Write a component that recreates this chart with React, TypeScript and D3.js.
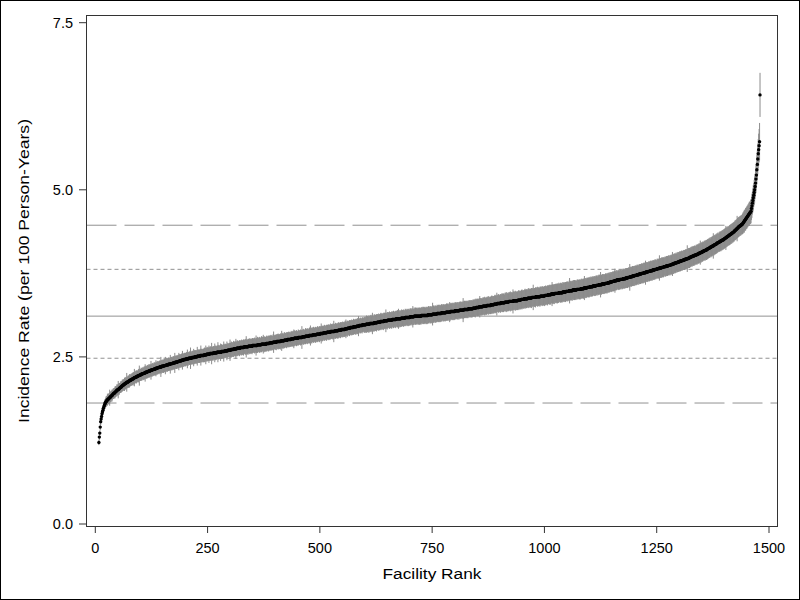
import React from 'react';
import * as d3 from 'd3';

// facility incidence rates, sorted, one per facility (rank 8 .. 1480)
const FIRST_RANK = 8;
const RATES = [
  1.22,1.30,1.36,1.45,1.53,1.57,1.61,1.65,1.68,1.70,1.73,1.75,1.77,
  1.79,1.81,1.82,1.83,1.84,1.85,1.86,1.86,1.87,1.88,1.88,1.89,1.90,1.90,1.91,1.92,1.92,1.93,1.94,1.95,
  1.95,1.96,1.96,1.97,1.98,1.98,1.99,2.00,2.00,2.01,2.01,2.02,2.02,2.03,2.04,2.04,2.05,2.05,2.06,2.07,
  2.07,2.08,2.08,2.09,2.09,2.10,2.10,2.11,2.11,2.12,2.12,2.12,2.13,2.13,2.14,2.14,2.15,2.15,2.15,2.16,
  2.16,2.17,2.17,2.17,2.18,2.18,2.19,2.19,2.19,2.20,2.20,2.20,2.21,2.21,2.21,2.22,2.22,2.22,2.23,2.23,
  2.23,2.24,2.24,2.24,2.25,2.25,2.25,2.25,2.26,2.26,2.26,2.27,2.27,2.27,2.27,2.28,2.28,2.28,2.29,2.29,
  2.29,2.29,2.30,2.30,2.30,2.30,2.31,2.31,2.31,2.31,2.32,2.32,2.32,2.32,2.33,2.33,2.33,2.33,2.34,2.34,
  2.34,2.34,2.35,2.35,2.35,2.35,2.35,2.36,2.36,2.36,2.36,2.36,2.37,2.37,2.37,2.37,2.37,2.38,2.38,2.38,
  2.38,2.38,2.39,2.39,2.39,2.39,2.39,2.40,2.40,2.40,2.40,2.40,2.41,2.41,2.41,2.41,2.41,2.42,2.42,2.42,
  2.42,2.42,2.43,2.43,2.43,2.43,2.44,2.44,2.44,2.44,2.44,2.45,2.45,2.45,2.45,2.45,2.46,2.46,2.46,2.46,
  2.46,2.47,2.47,2.47,2.47,2.47,2.47,2.48,2.48,2.48,2.48,2.48,2.48,2.48,2.49,2.49,2.49,2.49,2.49,2.49,
  2.50,2.50,2.50,2.50,2.50,2.50,2.51,2.51,2.51,2.51,2.51,2.51,2.51,2.52,2.52,2.52,2.52,2.52,2.52,2.52,
  2.52,2.53,2.53,2.53,2.53,2.53,2.53,2.54,2.54,2.54,2.54,2.54,2.54,2.54,2.55,2.55,2.55,2.55,2.55,2.55,
  2.55,2.55,2.56,2.56,2.56,2.56,2.56,2.56,2.56,2.56,2.57,2.57,2.57,2.57,2.57,2.57,2.57,2.57,2.57,2.57,
  2.58,2.58,2.58,2.58,2.58,2.58,2.58,2.59,2.59,2.59,2.59,2.59,2.59,2.59,2.60,2.60,2.60,2.60,2.60,2.60,
  2.60,2.61,2.61,2.61,2.61,2.61,2.61,2.62,2.62,2.62,2.62,2.62,2.62,2.62,2.63,2.63,2.63,2.63,2.63,2.63,
  2.63,2.63,2.64,2.64,2.64,2.64,2.64,2.64,2.64,2.64,2.65,2.65,2.65,2.65,2.65,2.65,2.65,2.65,2.65,2.65,
  2.66,2.66,2.66,2.66,2.66,2.66,2.66,2.66,2.66,2.67,2.67,2.67,2.67,2.67,2.67,2.67,2.67,2.67,2.67,2.67,
  2.68,2.68,2.68,2.68,2.68,2.68,2.68,2.68,2.68,2.69,2.69,2.69,2.69,2.69,2.69,2.69,2.69,2.69,2.69,2.69,
  2.70,2.70,2.70,2.70,2.70,2.70,2.70,2.71,2.71,2.71,2.71,2.71,2.71,2.71,2.71,2.72,2.72,2.72,2.72,2.72,
  2.72,2.72,2.72,2.73,2.73,2.73,2.73,2.73,2.73,2.73,2.73,2.73,2.74,2.74,2.74,2.74,2.74,2.74,2.74,2.74,
  2.75,2.75,2.75,2.75,2.75,2.75,2.75,2.76,2.76,2.76,2.76,2.76,2.76,2.76,2.76,2.77,2.77,2.77,2.77,2.77,
  2.77,2.77,2.78,2.78,2.78,2.78,2.78,2.78,2.78,2.78,2.78,2.79,2.79,2.79,2.79,2.79,2.79,2.79,2.79,2.79,
  2.80,2.80,2.80,2.80,2.80,2.80,2.80,2.81,2.81,2.81,2.81,2.81,2.81,2.81,2.81,2.82,2.82,2.82,2.82,2.82,
  2.82,2.82,2.82,2.83,2.83,2.83,2.83,2.83,2.83,2.83,2.83,2.83,2.84,2.84,2.84,2.84,2.84,2.84,2.84,2.84,
  2.85,2.85,2.85,2.85,2.85,2.85,2.85,2.86,2.86,2.86,2.86,2.86,2.86,2.86,2.86,2.87,2.87,2.87,2.87,2.87,
  2.87,2.87,2.87,2.88,2.88,2.88,2.88,2.88,2.88,2.88,2.88,2.88,2.89,2.89,2.89,2.89,2.89,2.89,2.89,2.89,
  2.90,2.90,2.90,2.90,2.90,2.90,2.90,2.91,2.91,2.91,2.91,2.91,2.91,2.91,2.91,2.92,2.92,2.92,2.92,2.92,
  2.92,2.93,2.93,2.93,2.93,2.93,2.93,2.94,2.94,2.94,2.94,2.94,2.94,2.94,2.95,2.95,2.95,2.95,2.95,2.95,
  2.95,2.96,2.96,2.96,2.96,2.96,2.96,2.97,2.97,2.97,2.97,2.97,2.97,2.97,2.98,2.98,2.98,2.98,2.98,2.98,
  2.98,2.98,2.99,2.99,2.99,2.99,2.99,2.99,2.99,2.99,3.00,3.00,3.00,3.00,3.00,3.00,3.00,3.00,3.00,3.00,
  3.01,3.01,3.01,3.01,3.01,3.01,3.01,3.02,3.02,3.02,3.02,3.02,3.02,3.02,3.03,3.03,3.03,3.03,3.03,3.03,
  3.03,3.03,3.04,3.04,3.04,3.04,3.04,3.04,3.04,3.04,3.05,3.05,3.05,3.05,3.05,3.05,3.05,3.05,3.05,3.05,
  3.06,3.06,3.06,3.06,3.06,3.06,3.06,3.06,3.06,3.07,3.07,3.07,3.07,3.07,3.07,3.07,3.07,3.07,3.07,3.07,
  3.08,3.08,3.08,3.08,3.08,3.08,3.08,3.08,3.08,3.09,3.09,3.09,3.09,3.09,3.09,3.09,3.09,3.09,3.09,3.09,
  3.10,3.10,3.10,3.10,3.10,3.10,3.10,3.10,3.10,3.11,3.11,3.11,3.11,3.11,3.11,3.11,3.11,3.11,3.11,3.11,
  3.11,3.11,3.11,3.11,3.11,3.12,3.12,3.12,3.12,3.12,3.12,3.12,3.12,3.12,3.12,3.12,3.12,3.12,3.12,3.12,
  3.13,3.13,3.13,3.13,3.13,3.13,3.13,3.13,3.13,3.13,3.14,3.14,3.14,3.14,3.14,3.14,3.14,3.14,3.14,3.14,
  3.15,3.15,3.15,3.15,3.15,3.15,3.15,3.15,3.15,3.15,3.16,3.16,3.16,3.16,3.16,3.16,3.16,3.16,3.16,3.16,
  3.17,3.17,3.17,3.17,3.17,3.17,3.17,3.17,3.17,3.17,3.18,3.18,3.18,3.18,3.18,3.18,3.18,3.18,3.18,3.18,
  3.19,3.19,3.19,3.19,3.19,3.19,3.19,3.19,3.19,3.19,3.20,3.20,3.20,3.20,3.20,3.20,3.20,3.20,3.20,3.20,
  3.21,3.21,3.21,3.21,3.21,3.21,3.21,3.21,3.21,3.21,3.22,3.22,3.22,3.22,3.22,3.22,3.22,3.22,3.22,3.22,
  3.23,3.23,3.23,3.23,3.23,3.23,3.23,3.24,3.24,3.24,3.24,3.24,3.24,3.24,3.25,3.25,3.25,3.25,3.25,3.25,
  3.25,3.25,3.26,3.26,3.26,3.26,3.26,3.26,3.26,3.26,3.26,3.27,3.27,3.27,3.27,3.27,3.27,3.27,3.27,3.27,
  3.28,3.28,3.28,3.28,3.28,3.28,3.28,3.29,3.29,3.29,3.29,3.29,3.29,3.29,3.30,3.30,3.30,3.30,3.30,3.30,
  3.30,3.30,3.31,3.31,3.31,3.31,3.31,3.31,3.31,3.31,3.31,3.32,3.32,3.32,3.32,3.32,3.32,3.32,3.32,3.32,
  3.33,3.33,3.33,3.33,3.33,3.33,3.33,3.33,3.33,3.33,3.34,3.34,3.34,3.34,3.34,3.34,3.34,3.34,3.34,3.34,
  3.35,3.35,3.35,3.35,3.35,3.35,3.35,3.36,3.36,3.36,3.36,3.36,3.36,3.36,3.37,3.37,3.37,3.37,3.37,3.37,
  3.37,3.37,3.38,3.38,3.38,3.38,3.38,3.38,3.38,3.38,3.38,3.39,3.39,3.39,3.39,3.39,3.39,3.39,3.39,3.39,
  3.40,3.40,3.40,3.40,3.40,3.40,3.40,3.40,3.40,3.40,3.41,3.41,3.41,3.41,3.41,3.41,3.41,3.41,3.41,3.41,
  3.42,3.42,3.42,3.42,3.42,3.42,3.42,3.43,3.43,3.43,3.43,3.43,3.43,3.43,3.44,3.44,3.44,3.44,3.44,3.44,
  3.44,3.44,3.45,3.45,3.45,3.45,3.45,3.45,3.45,3.45,3.45,3.46,3.46,3.46,3.46,3.46,3.46,3.46,3.46,3.46,
  3.47,3.47,3.47,3.47,3.47,3.47,3.47,3.48,3.48,3.48,3.48,3.48,3.48,3.48,3.49,3.49,3.49,3.49,3.49,3.49,
  3.49,3.49,3.50,3.50,3.50,3.50,3.50,3.50,3.50,3.50,3.50,3.51,3.51,3.51,3.51,3.51,3.51,3.51,3.51,3.51,
  3.52,3.52,3.52,3.52,3.52,3.52,3.52,3.53,3.53,3.53,3.53,3.53,3.53,3.53,3.54,3.54,3.54,3.54,3.54,3.54,
  3.55,3.55,3.55,3.55,3.55,3.55,3.55,3.56,3.56,3.56,3.56,3.56,3.56,3.56,3.57,3.57,3.57,3.57,3.57,3.57,
  3.58,3.58,3.58,3.58,3.58,3.58,3.58,3.59,3.59,3.59,3.59,3.59,3.59,3.59,3.60,3.60,3.60,3.60,3.60,3.60,
  3.61,3.61,3.61,3.61,3.61,3.62,3.62,3.62,3.62,3.62,3.63,3.63,3.63,3.63,3.63,3.64,3.64,3.64,3.64,3.64,
  3.65,3.65,3.65,3.65,3.65,3.65,3.65,3.66,3.66,3.66,3.66,3.66,3.66,3.66,3.67,3.67,3.67,3.67,3.67,3.67,
  3.68,3.68,3.68,3.68,3.68,3.69,3.69,3.69,3.69,3.69,3.70,3.70,3.70,3.70,3.70,3.71,3.71,3.71,3.71,3.71,
  3.72,3.72,3.72,3.72,3.72,3.73,3.73,3.73,3.73,3.73,3.74,3.74,3.74,3.74,3.74,3.75,3.75,3.75,3.75,3.75,
  3.76,3.76,3.76,3.76,3.76,3.77,3.77,3.77,3.77,3.77,3.78,3.78,3.78,3.78,3.78,3.79,3.79,3.79,3.79,3.79,
  3.80,3.80,3.80,3.80,3.80,3.81,3.81,3.81,3.81,3.81,3.82,3.82,3.82,3.82,3.82,3.83,3.83,3.83,3.83,3.83,
  3.84,3.84,3.84,3.84,3.84,3.85,3.85,3.85,3.85,3.85,3.86,3.86,3.86,3.86,3.86,3.87,3.87,3.87,3.87,3.87,
  3.88,3.88,3.88,3.88,3.89,3.89,3.89,3.89,3.90,3.90,3.90,3.90,3.91,3.91,3.91,3.91,3.92,3.92,3.92,3.92,
  3.93,3.93,3.93,3.93,3.94,3.94,3.94,3.94,3.95,3.95,3.95,3.95,3.96,3.96,3.96,3.96,3.97,3.97,3.97,3.97,
  3.98,3.98,3.98,3.99,3.99,3.99,4.00,4.00,4.00,4.01,4.01,4.01,4.01,4.02,4.02,4.02,4.02,4.03,4.03,4.03,
  4.04,4.04,4.04,4.05,4.05,4.05,4.06,4.06,4.06,4.07,4.07,4.07,4.08,4.08,4.08,4.09,4.09,4.09,4.10,4.10,
  4.10,4.11,4.11,4.12,4.12,4.12,4.13,4.13,4.14,4.14,4.14,4.15,4.15,4.16,4.16,4.16,4.17,4.17,4.18,4.18,
  4.18,4.19,4.19,4.20,4.20,4.21,4.21,4.21,4.22,4.22,4.23,4.23,4.23,4.24,4.24,4.25,4.25,4.25,4.26,4.26,
  4.27,4.27,4.28,4.28,4.29,4.29,4.30,4.30,4.31,4.31,4.32,4.32,4.33,4.33,4.34,4.34,4.35,4.35,4.36,4.36,
  4.37,4.37,4.38,4.39,4.39,4.40,4.41,4.41,4.42,4.43,4.43,4.44,4.45,4.45,4.46,4.46,4.47,4.47,4.48,4.48,
  4.49,4.50,4.51,4.52,4.53,4.54,4.55,4.56,4.57,4.58,4.59,4.60,4.61,4.62,4.63,4.64,4.65,4.66,4.67,4.68,
  4.72,4.76,4.80,4.84,4.88,4.92,4.96,5.00,5.05,5.10,5.16,5.22,5.30,5.38,5.46,5.54,5.60,5.66,5.72,6.42,
];

// half width of each facility's confidence interval, in hundredths
const CI_HALF = [
  4,5,4,5,5,4,5,6,5,5,6,5,6,
  7,6,7,8,7,7,9,7,8,7,8,12,7,8,8,7,9,8,7,8,
  8,7,8,9,8,8,7,9,8,8,13,8,9,8,7,8,9,8,8,9,
  8,9,8,8,10,8,9,9,8,14,9,8,9,9,8,10,9,9,8,9,
  9,8,9,10,9,9,13,9,8,9,10,9,9,8,9,10,9,15,9,9,
  9,10,9,9,8,10,9,9,10,9,13,9,10,9,9,10,9,9,10,9,
  10,9,9,14,9,10,9,10,9,9,10,9,10,9,12,9,10,9,10,9,
  9,10,9,10,9,15,10,9,10,9,10,10,9,10,9,13,10,9,10,10,
  10,9,10,10,9,10,14,10,9,10,10,9,10,10,9,10,15,10,9,10,
  10,10,9,10,10,13,10,10,9,10,10,10,9,14,10,10,9,10,10,10,
  10,9,10,10,14,10,10,9,10,10,10,16,10,9,10,10,10,10,13,10,
  10,10,10,9,10,10,14,10,10,10,9,10,10,10,15,10,10,10,9,10,
  10,10,11,10,10,14,10,10,11,10,10,10,13,10,10,11,10,10,16,10,
  10,11,10,10,10,14,10,11,10,10,10,10,15,10,11,10,10,10,13,10,
  11,10,10,10,11,15,10,10,11,10,10,10,14,10,11,10,10,10,11,16,
  11,10,12,11,11,10,11,12,11,10,11,11,15,11,10,12,11,11,10,11,
  12,11,10,11,11,12,10,11,11,12,11,10,11,11,12,16,11,10,11,12,
  11,10,11,12,11,11,10,11,12,11,11,10,11,11,12,11,10,15,11,11,
  12,11,10,11,11,12,11,10,11,12,11,11,10,14,11,12,11,10,11,11,
  11,12,10,11,11,12,11,11,10,11,12,11,11,10,11,12,16,11,10,11,
  11,11,12,10,11,11,12,11,10,11,11,12,11,10,15,11,11,12,10,11,
  12,11,11,10,11,12,11,11,10,11,12,11,11,10,11,12,11,10,11,12,
  11,14,11,12,10,11,11,12,11,10,11,12,11,11,10,11,12,11,11,17,
  10,11,12,11,11,10,11,12,11,11,10,12,11,11,10,11,12,11,15,11,
  11,12,10,11,11,12,11,10,11,12,11,11,10,11,12,11,10,11,12,11,
  11,10,15,11,12,11,11,10,11,12,11,11,10,11,12,11,11,10,11,12,
  11,11,10,12,11,11,10,11,12,11,16,11,10,11,12,11,11,10,11,12,
  11,12,10,11,11,12,11,11,10,11,12,11,11,10,11,12,11,14,10,11,
  12,11,11,10,11,12,11,11,10,11,12,11,11,10,12,11,11,10,11,12,
  11,11,10,12,11,15,11,10,11,12,11,11,10,12,11,11,10,11,12,11,
  12,11,12,13,11,12,12,11,13,12,11,12,12,13,11,12,16,12,11,12,
  13,12,11,12,12,13,11,12,12,11,13,12,12,11,12,13,12,11,12,12,
  11,13,12,12,11,12,17,12,11,13,12,12,11,12,13,12,12,11,12,13,
  12,11,12,13,12,11,12,12,13,11,12,12,13,12,15,12,11,13,12,12,
  12,13,11,12,12,13,12,11,12,13,12,12,11,13,12,12,13,11,12,12,
  13,12,12,11,13,12,16,12,12,13,11,12,13,12,12,13,11,12,13,12,
  12,13,11,12,13,12,12,13,11,12,13,12,12,13,12,11,13,12,13,12,
  12,13,12,11,13,12,13,12,12,13,17,12,13,12,11,13,12,13,12,12,
  13,12,12,13,11,13,12,13,12,12,13,12,11,13,12,13,12,12,13,12,
  12,13,12,13,12,11,13,12,15,13,12,13,12,12,13,11,13,12,13,12,
  13,12,13,12,12,13,12,13,11,13,12,13,12,13,12,12,13,12,18,13,
  12,13,12,13,12,12,13,13,12,13,11,13,12,13,12,13,12,13,13,12,
  13,12,13,12,13,14,12,13,12,13,13,12,13,12,13,16,12,13,13,12,
  13,12,13,13,12,13,14,12,13,12,13,13,12,13,14,12,13,12,13,13,
  12,13,14,13,12,13,13,12,13,14,13,12,13,17,13,12,13,14,13,12,
  13,14,13,12,14,13,14,13,14,13,12,14,13,14,15,13,14,13,14,13,
  14,13,14,15,13,14,13,14,13,18,14,13,14,13,15,14,13,14,13,14,
  13,14,15,13,14,13,14,13,14,15,13,14,13,14,13,14,15,13,14,14,
  14,13,14,13,15,14,13,14,14,13,15,14,13,14,19,13,14,14,13,15,
  14,13,14,14,15,13,14,14,13,15,14,14,13,14,15,14,13,14,14,15,
  13,14,15,14,13,14,15,14,14,13,15,14,14,15,13,14,18,14,15,14,
  14,15,13,14,14,15,14,13,15,14,14,15,14,13,14,15,14,14,15,13,
  15,14,14,15,14,13,15,14,14,15,14,15,13,14,15,19,14,14,15,14,
  14,15,14,13,15,14,15,14,14,15,14,13,15,14,15,14,14,15,14,15,
  13,15,14,15,14,14,15,14,18,14,15,13,15,14,15,14,14,15,14,15,
  14,15,13,15,14,15,14,15,14,13,15,14,15,14,15,14,15,13,15,14,
  15,14,15,14,19,14,15,13,15,14,15,14,15,14,14,15,14,15,13,15,
  14,15,14,15,14,15,13,15,14,15,14,15,14,15,14,15,18,14,15,14,
  15,14,13,15,14,15,14,15,14,15,14,13,15,14,15,14,15,14,15,14,
  15,14,15,14,15,13,15,14,15,20,14,15,14,15,14,15,13,15,14,15,
  14,15,14,15,14,15,14,15,13,15,14,15,14,15,14,15,14,15,14,15,
  15,14,15,14,18,15,14,15,14,15,13,15,14,15,14,15,14,15,14,15,
  14,15,14,15,14,15,14,15,14,13,15,14,15,14,15,19,14,15,14,15,
  15,14,15,14,15,14,13,15,14,15,14,15,14,15,14,15,14,15,13,15,
  14,15,14,15,18,14,15,14,15,14,15,14,15,13,15,14,15,14,15,14,
  15,14,15,14,15,14,15,14,13,15,14,15,14,15,14,15,14,20,15,14,
  15,14,15,14,15,13,15,14,15,14,15,14,15,14,15,14,13,15,14,15,
  14,15,14,15,14,15,18,14,15,14,15,14,15,14,13,15,14,15,14,15,
  15,14,15,14,15,14,15,14,15,13,15,14,15,14,15,19,14,15,14,15,
  14,15,14,15,14,15,14,13,15,14,15,14,15,14,15,14,15,14,15,14,
  15,14,15,18,15,14,15,14,15,14,13,15,14,15,14,15,14,15,14,15,
  14,15,14,15,14,15,14,15,19,15,14,15,14,15,14,15,14,15,14,15,
  15,16,15,16,17,15,16,17,16,16,17,16,17,16,17,18,17,17,18,18,
  17,18,17,18,19,18,19,20,19,20,21,20,22,21,23,22,24,25,28,33,
];

const RANK_TICKS = [0, 250, 500, 750, 1000, 1250, 1500];
const RATE_TICKS = [0, 2.5, 5.0, 7.5];
// reference lines: value and dash style
const REF_VALUES = [4.47, 3.81, 3.11, 2.48, 1.81];
const REF_DASHES = ['30,8', '4,3', null, '4,3', '30,8'];

const FONT = '"Liberation Sans", Arial, Helvetica, sans-serif';
const BAND_COLOR = '#8c8c8c';
const REF_COLOR = '#919191';

const App = () => {
    const width = 800;
    const height = 600;
    // plot frame
    const left = 86.5, right = 777.5, top = 15.5, bottom = 526.5;

    const x = d3.scaleLinear().domain([0, 1500]).range([95.3, 769]);
    const y = d3.scaleLinear().domain([0, 7.5]).range([524, 22.7]);

    const n = Math.min(RATES.length, CI_HALF.length);
    const facilities = d3.range(n).map(i => ({
        rank: FIRST_RANK + i,
        rate: RATES[i],
        half: CI_HALF[i] / 100,
    }));

    return (
        <svg width={width} height={height}
            style={{ position: 'absolute', left: 0, top: 0, background: '#fff' }}
            fontFamily={FONT}>
            <rect x={0.5} y={0.5} width={width - 1} height={height - 1} fill="#fff" stroke="#000" />

            {/* reference lines, behind the data */}
            {REF_VALUES.map((v, i) => (
                <line key={'ref' + i} x1={left} x2={right} y1={y(v)} y2={y(v)}
                    stroke={REF_COLOR} strokeWidth={1}
                    strokeDasharray={REF_DASHES[i] || undefined} />
            ))}

            {/* confidence intervals */}
            <g stroke={BAND_COLOR} strokeWidth={1}>
                {facilities.map(d => (
                    <line key={'ci' + d.rank} x1={x(d.rank)} x2={x(d.rank)}
                        y1={y(d.rate - d.half)} y2={y(d.rate + d.half)} />
                ))}
            </g>

            {/* point estimates */}
            <g fill="#000">
                {facilities.map(d => (
                    <circle key={'pt' + d.rank} cx={x(d.rank)} cy={y(d.rate)} r={1.7} />
                ))}
            </g>

            {/* frame */}
            <rect x={left} y={top} width={right - left} height={bottom - top}
                fill="none" stroke="#333" strokeWidth={1} />

            {/* y axis */}
            {RATE_TICKS.map(t => (
                <g key={'yt' + t}>
                    <line x1={79} x2={left} y1={y(t)} y2={y(t)} stroke="#333" />
                    <text x={73} y={y(t) + 5} textAnchor="end" fontSize={14.5} fill="#000">
                        {d3.format('.1f')(t)}
                    </text>
                </g>
            ))}

            {/* x axis */}
            {RANK_TICKS.map(t => (
                <g key={'xt' + t}>
                    <line x1={x(t)} x2={x(t)} y1={bottom} y2={533} stroke="#333" />
                    <text x={x(t)} y={553} textAnchor="middle" fontSize={14.5} fill="#000">
                        {t}
                    </text>
                </g>
            ))}

            <text x={(left + right) / 2} y={579} textAnchor="middle" fontSize={15.5}
                textLength={99} lengthAdjust="spacingAndGlyphs" fill="#000">
                Facility Rank
            </text>
            <text transform={`translate(29, ${(top + bottom) / 2}) rotate(-90)`} textAnchor="middle"
                fontSize={15.5} textLength={304} lengthAdjust="spacingAndGlyphs" fill="#000">
                Incidence Rate (per 100 Person-Years)
            </text>
        </svg>
    );
};

export default App;
